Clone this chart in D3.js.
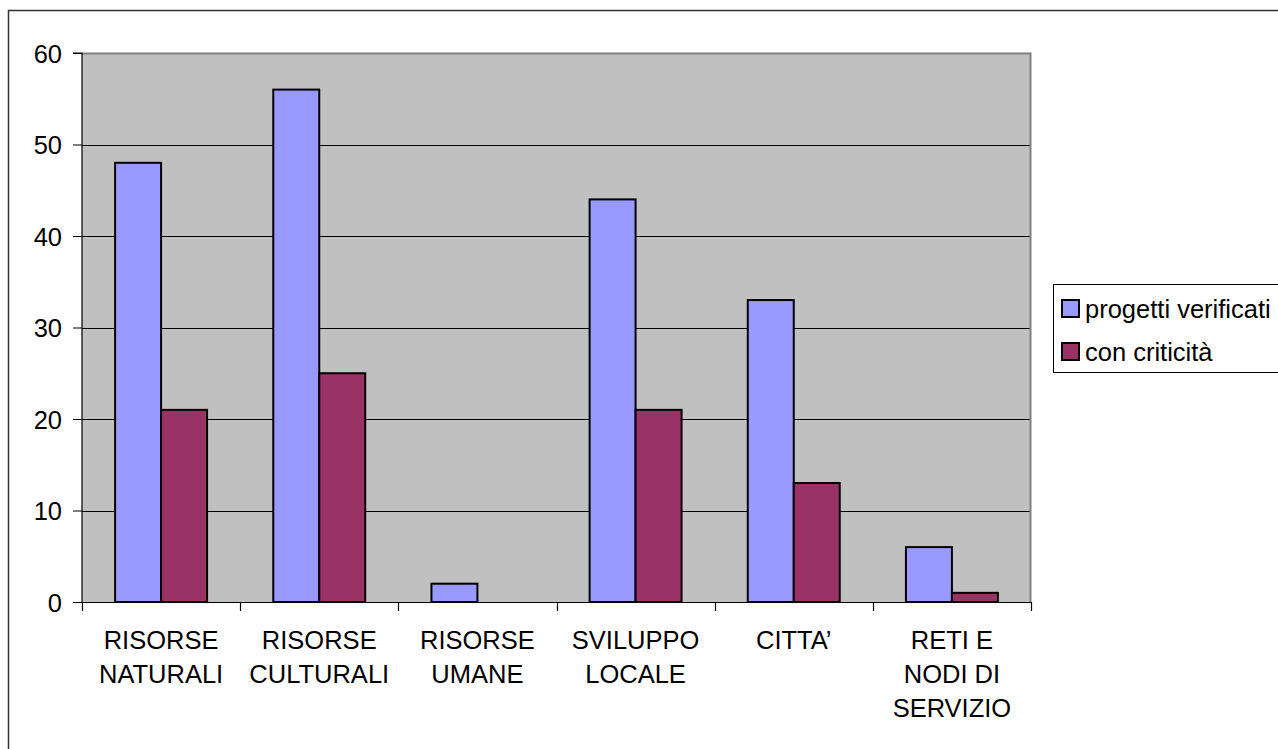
<!DOCTYPE html>
<html>
<head>
<meta charset="utf-8">
<script src="https://cdn.jsdelivr.net/npm/d3@7"></script>
<style>
  html, body { margin: 0; padding: 0; background: #fff; }
  svg { display: block; }
  text { font-family: "Liberation Sans", Arial, sans-serif; fill: #000; }
</style>
</head>
<body>
<svg id="chart" width="1278" height="749"></svg>
<script>
const categories = [
  ["RISORSE", "NATURALI"],
  ["RISORSE", "CULTURALI"],
  ["RISORSE", "UMANE"],
  ["SVILUPPO", "LOCALE"],
  ["CITTA\u2019"],
  ["RETI E", "NODI DI", "SERVIZIO"]
];
const seriesNames = ["progetti verificati", "con criticità"];
const progettiVerificati = [48, 56, 2, 44, 33, 6];
const conCriticita = [21, 25, 0, 21, 13, 1];
const yTicks = [0, 10, 20, 30, 40, 50, 60];
const colors = ["#9999FF", "#993366"];

const seriesValues = [progettiVerificati, conCriticita];
const catKeys = categories.map(c => c.join(" "));

const svg = d3.select("#chart");
const fontSize = 25.5;

// outer chart border
svg.append("rect")
  .attr("x", 8.5).attr("y", 10.5)
  .attr("width", 1300).attr("height", 800)
  .attr("fill", "#fff").attr("stroke", "#333").attr("stroke-width", 1.5);

const plot = { left: 82, top: 53, right: 1031, bottom: 602 };

const x0 = d3.scaleBand().domain(catKeys).range([plot.left, plot.right]).padding(0);
const x1 = d3.scaleBand().domain(seriesNames).range([0, x0.bandwidth()])
  .paddingInner(0).paddingOuter(0.72);
const y = d3.scaleLinear().domain([0, 60]).range([plot.bottom, plot.top]);

// plot background
svg.append("rect")
  .attr("x", plot.left).attr("y", plot.top)
  .attr("width", plot.right - plot.left).attr("height", plot.bottom - plot.top)
  .attr("fill", "#C0C0C0");

// gridlines
svg.append("g").selectAll("line")
  .data(yTicks.filter(t => t > 0 && t < 60))
  .join("line")
  .attr("x1", plot.left).attr("x2", plot.right)
  .attr("y1", d => Math.round(y(d)) + 0.5).attr("y2", d => Math.round(y(d)) + 0.5)
  .attr("stroke", "#000").attr("stroke-width", 1);

// plot border top/right
svg.append("path")
  .attr("d", `M${plot.left},${plot.top + 0.5}H${plot.right - 0.5}V${plot.bottom}`)
  .attr("fill", "none").attr("stroke", "#808080").attr("stroke-width", 2);

// bars
const gBars = svg.append("g");
catKeys.forEach((k, i) => {
  seriesNames.forEach((s, j) => {
    const v = seriesValues[j][i];
    if (v <= 0) return;
    gBars.append("rect")
      .attr("x", x0(k) + x1(s))
      .attr("y", y(v))
      .attr("width", x1.bandwidth())
      .attr("height", y(0) - y(v))
      .attr("fill", colors[j])
      .attr("stroke", "#000")
      .attr("stroke-width", 2);
  });
});

// y axis
const yAxis = d3.axisLeft(y).tickValues(yTicks).tickSize(9).tickPadding(11).tickFormat(d3.format("d"));
const gy = svg.append("g").attr("transform", `translate(${plot.left},0)`).call(yAxis);
gy.select(".domain").attr("stroke", "#000").attr("stroke-width", 1.2).attr("d", `M-9,${plot.top}H0V${plot.bottom}`);
gy.selectAll(".tick line").attr("stroke", "#000");
gy.selectAll(".tick text")
  .attr("font-size", fontSize)
  .attr("font-family", "Liberation Sans, Arial, sans-serif")
  .attr("fill", "#000")
  .attr("dy", "0.36em");

// x axis: ticks at category boundaries
const xBoundaries = catKeys.map(k => x0(k)).concat([plot.right]);
const gx = svg.append("g");
gx.append("line")
  .attr("x1", plot.left - 9).attr("x2", plot.right)
  .attr("y1", plot.bottom + 0.5).attr("y2", plot.bottom + 0.5)
  .attr("stroke", "#000").attr("stroke-width", 1.2);
gx.selectAll("line.tk").data(xBoundaries).join("line")
  .attr("class", "tk")
  .attr("x1", d => Math.round(d) + 0.5).attr("x2", d => Math.round(d) + 0.5)
  .attr("y1", plot.bottom).attr("y2", plot.bottom + 9)
  .attr("stroke", "#000").attr("stroke-width", 1.2);

// category labels
categories.forEach((lines, i) => {
  const cx = x0(catKeys[i]) + x0.bandwidth() / 2;
  const t = svg.append("text")
    .attr("x", cx).attr("y", 649)
    .attr("text-anchor", "middle")
    .attr("font-size", fontSize);
  lines.forEach((ln, li) => {
    t.append("tspan").attr("x", cx).attr("y", 649 + li * 34).text(ln);
  });
});

// legend
const lg = svg.append("g");
lg.append("rect")
  .attr("x", 1053.5).attr("y", 284.5)
  .attr("width", 300).attr("height", 88)
  .attr("fill", "#fff").attr("stroke", "#000").attr("stroke-width", 1);
seriesNames.forEach((s, j) => {
  const cy = 309 + j * 43;
  lg.append("rect")
    .attr("x", 1062).attr("y", cy - 9)
    .attr("width", 17).attr("height", 17)
    .attr("fill", colors[j]).attr("stroke", "#000").attr("stroke-width", 2);
  lg.append("text")
    .attr("x", 1085).attr("y", cy + 9)
    .attr("font-size", fontSize)
    .text(s);
});
</script>
</body>
</html>
